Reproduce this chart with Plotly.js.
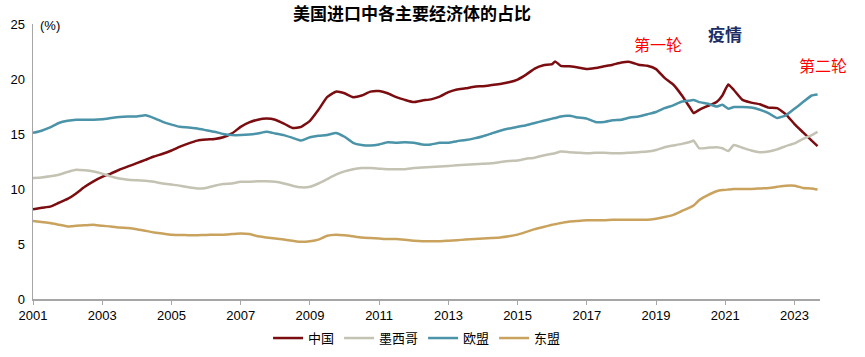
<!DOCTYPE html>
<html>
<head>
<meta charset="utf-8">
<script src="https://cdn.plot.ly/plotly-3.0.1.min.js"></script>
<style>html,body{margin:0;padding:0;background:#fff;}#chart{width:865px;height:357px;}</style>
</head>
<body>
<div id="chart"></div>
<script>
const dates = [
 "2001-01-01","2001-04-01","2001-07-01","2001-10-01",
 "2002-01-01","2002-04-01","2002-07-01","2002-10-01",
 "2003-01-01","2003-04-01","2003-07-01","2003-10-01",
 "2004-01-01","2004-04-01","2004-07-01","2004-10-01",
 "2005-01-01","2005-04-01","2005-07-01","2005-10-01",
 "2006-01-01","2006-04-01","2006-07-01","2006-10-01",
 "2007-01-01","2007-04-01","2007-07-01","2007-10-01",
 "2008-01-01","2008-04-01","2008-07-01","2008-10-01",
 "2009-01-01","2009-04-01","2009-07-01","2009-10-01",
 "2010-01-01","2010-04-01","2010-07-01","2010-10-01",
 "2011-01-01","2011-04-01","2011-07-01","2011-10-01",
 "2012-01-01","2012-04-01","2012-07-01","2012-10-01",
 "2013-01-01","2013-04-01","2013-07-01","2013-10-01",
 "2014-01-01","2014-04-01","2014-07-01","2014-10-01",
 "2015-01-01","2015-04-01","2015-07-01","2015-10-01",
 "2016-01-01","2016-02-01","2016-04-01","2016-07-01","2016-10-01",
 "2017-01-01","2017-04-01","2017-07-01","2017-10-01",
 "2018-01-01","2018-04-01","2018-07-01","2018-10-01",
 "2019-01-01","2019-04-01","2019-07-01","2019-10-01",
 "2020-01-01","2020-02-01","2020-04-01","2020-07-01","2020-10-01","2020-12-01",
 "2021-02-01","2021-04-01","2021-07-01","2021-10-01",
 "2022-01-01","2022-04-01","2022-07-01","2022-10-01",
 "2023-01-01","2023-04-01","2023-07-01","2023-09-01"
];

const china = [
 8.15,8.3,8.4,8.75,
 9.1,9.6,10.2,10.7,
 11.1,11.4,11.75,12.05,
 12.35,12.65,12.95,13.2,
 13.5,13.85,14.15,14.4,
 14.5,14.55,14.7,15.05,
 15.65,16.05,16.3,16.4,
 16.3,15.95,15.55,15.65,
 16.2,17.2,18.35,18.85,
 18.7,18.35,18.5,18.85,
 18.9,18.7,18.35,18.1,
 17.9,18.05,18.15,18.4,
 18.8,19.05,19.15,19.3,
 19.35,19.45,19.55,19.7,
 19.95,20.4,20.95,21.25,
 21.35,21.6,21.2,21.15,21.05,
 20.9,21.0,21.15,21.3,
 21.5,21.55,21.3,21.2,
 20.9,20.1,19.5,18.5,
 17.3,16.9,17.2,17.55,17.9,18.5,
 19.5,19.0,18.1,17.85,
 17.7,17.4,17.35,16.8,
 15.9,15.15,14.4,13.9
];

const mexico = [
 11.0,11.05,11.15,11.3,
 11.55,11.75,11.7,11.6,
 11.4,11.15,10.95,10.85,
 10.8,10.75,10.65,10.5,
 10.4,10.3,10.15,10.05,
 10.1,10.3,10.45,10.5,
 10.65,10.65,10.7,10.7,
 10.65,10.5,10.3,10.15,
 10.2,10.5,10.9,11.3,
 11.6,11.8,11.9,11.9,
 11.85,11.8,11.8,11.8,
 11.9,11.95,12.0,12.05,
 12.1,12.15,12.2,12.25,
 12.3,12.35,12.45,12.55,
 12.6,12.75,12.85,13.05,
 13.2,13.25,13.4,13.35,13.3,
 13.25,13.3,13.3,13.25,
 13.25,13.3,13.35,13.4,
 13.55,13.8,13.95,14.1,
 14.3,14.4,13.7,13.75,13.8,13.7,
 13.45,14.0,13.75,13.5,
 13.35,13.4,13.6,13.9,
 14.15,14.55,14.9,15.2
];

const eu = [
 15.1,15.3,15.6,16.0,
 16.2,16.3,16.3,16.3,
 16.35,16.45,16.55,16.6,
 16.6,16.7,16.45,16.1,
 15.85,15.65,15.6,15.5,
 15.35,15.2,15.0,14.9,
 14.9,14.95,15.05,15.2,
 15.05,14.9,14.65,14.4,
 14.7,14.85,14.9,15.1,
 14.75,14.2,14.0,13.95,
 14.05,14.25,14.2,14.25,
 14.2,14.05,14.05,14.2,
 14.2,14.35,14.45,14.6,
 14.8,15.05,15.3,15.5,
 15.65,15.8,16.0,16.2,
 16.4,16.45,16.6,16.65,16.5,
 16.4,16.1,16.1,16.25,
 16.3,16.5,16.6,16.8,
 17.0,17.35,17.6,17.95,
 18.05,18.1,17.9,17.75,17.5,17.65,
 17.3,17.45,17.45,17.4,
 17.2,16.9,16.45,16.7,
 17.3,17.9,18.5,18.6
];

const asean = [
 7.1,7.0,6.9,6.75,
 6.6,6.65,6.7,6.75,
 6.65,6.6,6.5,6.45,
 6.35,6.2,6.05,5.95,
 5.85,5.82,5.8,5.8,
 5.82,5.85,5.85,5.9,
 5.95,5.9,5.7,5.6,
 5.5,5.4,5.3,5.2,
 5.25,5.4,5.75,5.85,
 5.8,5.7,5.6,5.55,
 5.5,5.45,5.45,5.38,
 5.3,5.25,5.25,5.25,
 5.3,5.35,5.4,5.45,
 5.5,5.55,5.6,5.7,
 5.85,6.1,6.35,6.55,
 6.75,6.8,6.9,7.05,7.1,
 7.15,7.15,7.15,7.2,
 7.2,7.2,7.2,7.2,
 7.3,7.45,7.65,8.0,
 8.35,8.5,9.0,9.45,9.8,9.9,
 9.95,10.0,10.0,10.0,
 10.05,10.1,10.2,10.3,
 10.3,10.1,10.05,9.95
];

const seriesNames = ["中国","墨西哥","欧盟","东盟"];
const seriesColors = ["#7B0C10","#C3C2B3","#4A93A8","#C9A35E"];
const seriesValues = [china, mexico, eu, asean];

const xTickVals = ["2001-01-01","2003-01-01","2005-01-01","2007-01-01","2009-01-01","2011-01-01","2013-01-01","2015-01-01","2017-01-01","2019-01-01","2021-01-01","2023-01-01"];
const xTickText = ["2001","2003","2005","2007","2009","2011","2013","2015","2017","2019","2021","2023"];

const cjk = '"Noto Sans CJK SC", "Noto Sans", sans-serif';
const latin = '"Liberation Sans", Arial, sans-serif';

const traces = seriesNames.map((n, i) => ({
  x: dates, y: seriesValues[i], type: 'scatter', mode: 'lines', name: n,
  line: {color: seriesColors[i], width: 2.5, shape: 'spline', smoothing: 0.4},
  hoverinfo: 'skip'
}));

const layout = {
  width: 865, height: 357,
  margin: {l: 33, r: 45, t: 24, b: 58, pad: 0, autoexpand: false},
  paper_bgcolor: '#ffffff', plot_bgcolor: '#ffffff',
  showlegend: true,
  title: {text: '<b>美国进口中各主要经济体的占比</b>', x: 0.4815, xanchor: 'center', xref: 'paper', y: 0.961, yanchor: 'middle', font: {family: cjk, size: 17, color: '#000'}},
  xaxis: {
    type: 'date', range: ['2001-01-01', '2023-09-27'],
    tickmode: 'array', tickvals: xTickVals, ticktext: xTickText,
    ticks: 'outside', ticklen: 4, tickcolor: '#A6A6A6', tickwidth: 1,
    showline: true, linecolor: '#A6A6A6', linewidth: 1.5,
    showgrid: false, zeroline: false,
    tickfont: {family: latin, size: 13, color: '#000'}
  },
  yaxis: {
    range: [0, 25], dtick: 5, tick0: 0,
    ticks: '', showline: true, linecolor: '#A6A6A6', linewidth: 1.5,
    showgrid: false, zeroline: false,
    tickfont: {family: latin, size: 13, color: '#000'}, ticklabelstandoff: 4
  },
  legend: {
    orientation: 'h', x: 0.488, xanchor: 'center', yref: 'container', y: 0.053, yanchor: 'middle',
    font: {family: cjk, size: 13, color: '#000'}, itemwidth: 30, tracegroupgap: 0,
    bgcolor: 'rgba(0,0,0,0)'
  },
  annotations: [
    {text: '(%)', xref: 'paper', yref: 'paper', x: 0.0065, xanchor: 'left', y: 0.995, yanchor: 'middle', showarrow: false, font: {family: latin, size: 13, color: '#000'}},
    {text: '第一轮', xref: 'paper', yref: 'paper', x: (658 - 33) / 787, xanchor: 'center', y: (299 - 44) / 275, yanchor: 'middle', showarrow: false, font: {family: cjk, size: 16, color: '#FF0000'}},
    {text: '<b>疫情</b>', xref: 'paper', yref: 'paper', x: (725 - 33) / 787, xanchor: 'center', y: (299 - 33) / 275, yanchor: 'middle', showarrow: false, font: {family: cjk, size: 17, color: '#1B2F66'}},
    {text: '第二轮', xref: 'paper', yref: 'paper', x: (823 - 33) / 787, xanchor: 'center', y: (299 - 65) / 275, yanchor: 'middle', showarrow: false, font: {family: cjk, size: 16, color: '#FF0000'}}
  ]
};

Plotly.newPlot('chart', traces, layout, {staticPlot: true, displayModeBar: false});
</script>
</body>
</html>
